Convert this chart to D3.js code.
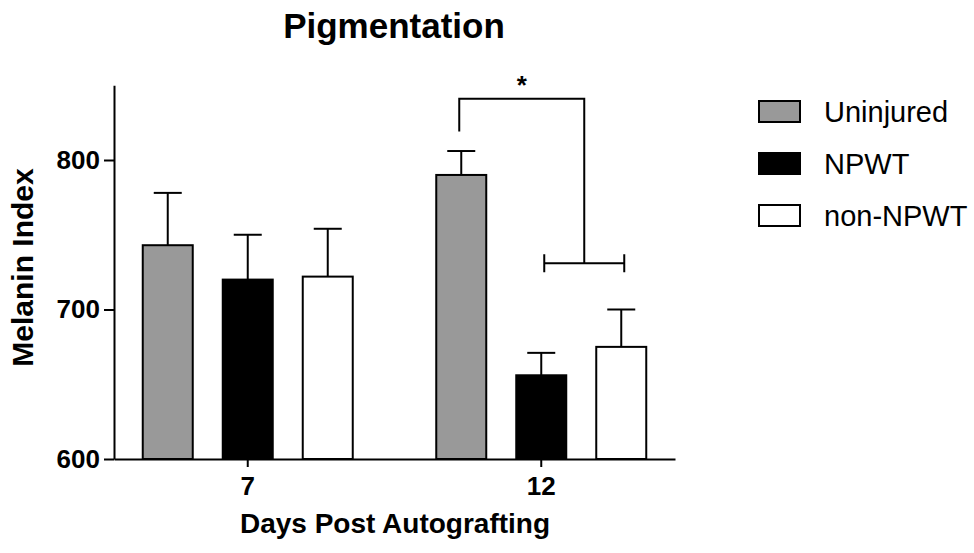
<!DOCTYPE html>
<html>
<head>
<meta charset="utf-8">
<script src="https://cdn.jsdelivr.net/npm/d3@7"></script>
<style>
  body { margin: 0; background: #fff; }
  svg text { font-family: "Liberation Sans", Arial, Helvetica, sans-serif; fill: #000; }
</style>
</head>
<body>
<svg id="vis" width="974" height="553"></svg>
<script>
// chart values
var days = ["7", "12"];
var groups = ["Uninjured", "NPWT", "non-NPWT"];
var uninjured = [743, 790];
var npwt = [720, 656];
var nonNpwt = [722, 675];
var uninjuredErr = [35, 16];
var npwtErr = [30, 15];
var nonNpwtErr = [32, 25];
var yTicks = [600, 700, 800];
var fills = ["#999999", "#000000", "#ffffff"];

// significance bracket (day 12: Uninjured vs NPWT / non-NPWT)
var sigTop = 841, sigLeftEnd = 819, sigRightEnd = 731;

var means = [uninjured, npwt, nonNpwt];
var errs = [uninjuredErr, npwtErr, nonNpwtErr];

var vis = d3.select("#vis");

var y = d3.scaleLinear().domain([600, 850]).range([459, 85.25]);

var x0 = d3.scaleBand().domain(days).range([114, 675])
    .paddingInner(0.2).paddingOuter(0.0557);
var x1 = d3.scaleBand().domain(groups).range([-120, 120])
    .paddingInner(0.375).paddingOuter(0.1875);

function center(day) { return x0(day) + x0.bandwidth() / 2; }
function barMid(day, g) { return center(day) + x1(g) + x1.bandwidth() / 2; }

// flatten to one record per bar
var bars = [];
days.forEach(function (d, i) {
    groups.forEach(function (g, j) {
        bars.push({ day: d, group: g, v: means[j][i], e: errs[j][i], fill: fills[j] });
    });
});

// error bars (drawn under the bars so the stem starts at the bar top)
var eb = vis.append("g").attr("stroke", "#000").attr("stroke-width", 2);
eb.selectAll(".stem").data(bars).enter().append("line")
    .attr("x1", d => barMid(d.day, d.group))
    .attr("x2", d => barMid(d.day, d.group))
    .attr("y1", d => y(d.v))
    .attr("y2", d => y(d.v + d.e));
eb.selectAll(".cap").data(bars).enter().append("line")
    .attr("x1", d => barMid(d.day, d.group) - 14)
    .attr("x2", d => barMid(d.day, d.group) + 14)
    .attr("y1", d => y(d.v + d.e))
    .attr("y2", d => y(d.v + d.e));

vis.append("g").selectAll("rect").data(bars).enter().append("rect")
    .attr("x", d => center(d.day) + x1(d.group))
    .attr("width", x1.bandwidth())
    .attr("y", d => y(d.v))
    .attr("height", d => y(600) - y(d.v))
    .attr("fill", d => d.fill)
    .attr("stroke", "#000")
    .attr("stroke-width", 2);

// axes
var yAxis = vis.append("g")
    .attr("transform", "translate(114,0)")
    .call(d3.axisLeft(y).tickValues(yTicks).tickSize(10).tickPadding(4).tickSizeOuter(0));
yAxis.selectAll("text").style("font-size", "26px").style("font-weight", "bold");

var xAxis = vis.append("g")
    .attr("transform", "translate(0,459)")
    .call(d3.axisBottom(x0).tickSize(8).tickPadding(9.5).tickSizeOuter(0));
xAxis.selectAll("text").style("font-size", "26px").style("font-weight", "bold");

vis.selectAll(".domain, .tick line").attr("stroke", "#000").attr("stroke-width", 2);

// significance bracket
var lx = barMid("12", "Uninjured") - 2;
var ax = barMid("12", "NPWT") + 3;
var bx = barMid("12", "non-NPWT") + 3;
var rx = (ax + bx) / 2;
var br = vis.append("g").attr("stroke", "#000").attr("stroke-width", 2).attr("fill", "none");
br.append("path")
    .attr("d", `M${lx},${y(sigLeftEnd)} V${y(sigTop)} H${rx} V${y(sigRightEnd)}`);
br.append("path")
    .attr("d", `M${ax},${y(sigRightEnd)} H${bx} M${ax},${y(sigRightEnd) - 9} V${y(sigRightEnd) + 9} M${bx},${y(sigRightEnd) - 9} V${y(sigRightEnd) + 9}`);
vis.append("text")
    .attr("x", (lx + rx) / 2)
    .attr("y", 94)
    .attr("text-anchor", "middle")
    .style("font-size", "26px")
    .style("font-weight", "bold")
    .text("*");

// titles
vis.append("text")
    .attr("x", 394).attr("y", 38)
    .attr("text-anchor", "middle")
    .style("font-size", "35px").style("font-weight", "bold")
    .text("Pigmentation");

vis.append("text")
    .attr("transform", "translate(33,267.5) rotate(-90)")
    .attr("text-anchor", "middle")
    .style("font-size", "30px").style("font-weight", "bold")
    .text("Melanin Index");

vis.append("text")
    .attr("x", 395).attr("y", 533)
    .attr("text-anchor", "middle")
    .style("font-size", "28px").style("font-weight", "bold")
    .text("Days Post Autografting");

// legend
var legend = vis.append("g").selectAll("g").data(groups).enter().append("g")
    .attr("transform", (d, i) => `translate(759,${101 + i * 52})`);
legend.append("rect")
    .attr("width", 41).attr("height", 21)
    .attr("fill", (d, i) => fills[i])
    .attr("stroke", "#000").attr("stroke-width", 2);
legend.append("text")
    .attr("x", 65).attr("y", 21)
    .style("font-size", "29px")
    .text(d => d);
</script>
</body>
</html>
